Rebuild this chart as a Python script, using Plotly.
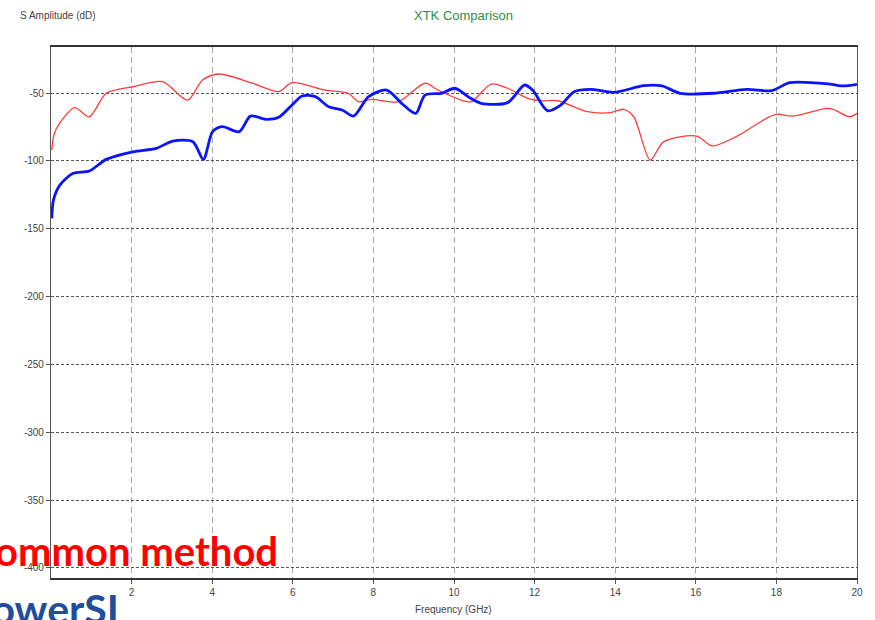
import plotly.graph_objects as go

# ---- data ----
red_x = [0.02, 0.08, 0.22, 0.59, 0.95, 1.37, 2.03, 2.77, 3.39, 3.76, 4.17, 5.0, 5.65, 5.98,
         6.8, 7.38, 7.63, 7.96, 8.62, 9.28, 9.6, 10.18, 10.43, 10.92, 11.33, 11.83, 12.16,
         12.57, 13.31, 13.88, 14.21, 14.46, 14.87, 15.2, 16.02, 16.4, 17.0, 17.75, 18.0,
         18.41, 19.32, 19.81, 20.0]
red_y = [-92, -80, -72, -60.8, -67.5, -50.2, -45.4, -41.7, -55.2, -40.4, -36, -42.8, -49, -42.4,
         -47.8, -50.2, -56.4, -54.7, -56.4, -42.8, -47.8, -55.2, -56.4, -43.4, -46.5, -53.9, -55.7,
         -55.7, -63.8, -64.5, -62, -67.5, -99.4, -86, -81.7, -89, -82.2, -68.7, -65.7,
         -67, -61.3, -67.5, -65]

blue_x = [0.02, 0.06, 0.22, 0.55, 0.95, 1.37, 2.03, 2.61, 3.02, 3.52, 3.78, 4.01, 4.25, 4.67,
          4.95, 5.33, 5.65, 5.98, 6.23, 6.56, 6.89, 7.22, 7.51, 7.88, 8.33, 8.7, 9.05, 9.28,
          9.69, 10.02, 10.35, 10.67, 11.33, 11.75, 11.95, 12.32, 12.65, 12.98, 13.39, 13.97,
          14.71, 15.16, 15.61, 16.44, 17.26, 17.88, 18.33, 19.32, 19.65, 20.0]
blue_y = [-142.4, -128.9, -117.9, -109.2, -107.5, -98.9, -93.3, -90.8, -85.4, -85.9, -98.9, -78.5,
          -74.8, -78.5, -67, -69.4, -67.9, -58.9, -52.2, -52.7, -60.1, -62.5, -67, -52.7, -47.8,
          -57.6, -65, -51.5, -50.2, -46.5, -52.7, -57.6, -57.1, -44.1, -47.8, -63, -58.9, -49,
          -47.3, -49.5, -44.6, -44.8, -50.2, -50.2, -47.3, -48.3, -42.4, -43.4, -44.8, -43.6]

x_ticks = [2, 4, 6, 8, 10, 12, 14, 16, 18, 20]
y_ticks = [-50, -100, -150, -200, -250, -300, -350, -400]

title_text = "XTK Comparison"
y_label = "S Amplitude (dD)"
x_label = "Frequency (GHz)"
overlay_red = "Common method"
overlay_blue = "PowerSI"

NARROW = "Liberation Sans Narrow, Arial Narrow, Liberation Sans, sans-serif"

fig = go.Figure()
fig.add_trace(go.Scatter(x=red_x, y=red_y, mode="lines",
                         line=dict(color="#ff3b3b", width=1.3, shape="spline", smoothing=0.8),
                         showlegend=False))
fig.add_trace(go.Scatter(x=blue_x, y=blue_y, mode="lines",
                         line=dict(color="#0a14ff", width=2.8, shape="spline", smoothing=0.8),
                         showlegend=False))

fig.update_layout(
    width=875, height=620,
    margin=dict(l=51, r=13, t=47, b=42),
    paper_bgcolor="white", plot_bgcolor="white",
    showlegend=False,
    xaxis=dict(range=[0, 20], tickvals=x_ticks, ticktext=[str(v) for v in x_ticks],
               showgrid=True, gridcolor="#a8a8a8", gridwidth=1, griddash="6px,4px",
               showline=True, linecolor="#333", linewidth=1.5, mirror=True,
               ticks="outside", ticklen=4, tickcolor="#555",
               tickfont=dict(family=NARROW, size=10, color="#444"), zeroline=False),
    yaxis=dict(range=[-407.4, -16.1], tickvals=y_ticks, ticktext=[str(v) for v in y_ticks],
               showgrid=True, gridcolor="#555", gridwidth=1, griddash="3px,2px",
               showline=True, linecolor="#555", linewidth=1.2, mirror=True,
               ticks="outside", ticklen=4, tickcolor="#555",
               tickfont=dict(family=NARROW, size=10, color="#444"), zeroline=False),
    annotations=[
        dict(text=y_label, xref="paper", yref="paper", x=-0.0407, y=1.060,
             xanchor="left", yanchor="middle", showarrow=False,
             font=dict(family=NARROW, size=10, color="#444")),
        dict(text=title_text, xref="paper", yref="paper", x=0.512, y=1.060,
             xanchor="center", yanchor="middle", showarrow=False,
             font=dict(family=NARROW, size=13, color="#2e8b4a")),
        dict(text=x_label, xref="paper", yref="paper", x=0.4994, y=-0.060,
             xanchor="center", yanchor="middle", showarrow=False,
             font=dict(family=NARROW, size=10, color="#444")),
        dict(text="<b>" + overlay_red + "</b>", xref="paper", yref="paper",
             x=(281 - 51) / 811, y=(578 - 551) / 531,
             xanchor="right", yanchor="middle", showarrow=False,
             font=dict(family="Lato, Open Sans, sans-serif", size=40, color="#ff0000")),
        dict(text="<b>" + overlay_blue + "</b>", xref="paper", yref="paper",
             x=(121 - 51) / 811, y=(578 - 608) / 531,
             xanchor="right", yanchor="middle", showarrow=False,
             font=dict(family="Lato, Open Sans, sans-serif", size=41, color="#1f4e9e")),
    ],
)

fig.write_html("out.html")
